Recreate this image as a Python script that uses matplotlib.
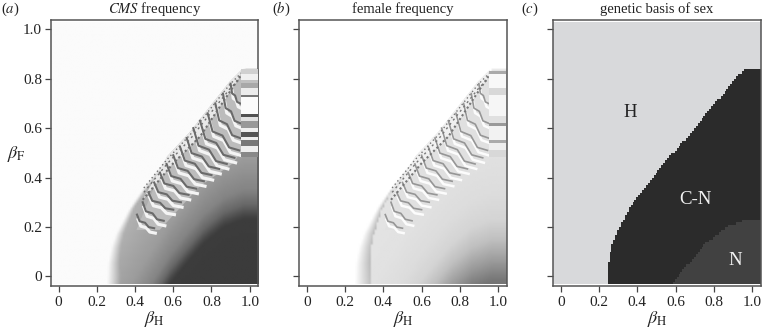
import numpy as np
import matplotlib
matplotlib.use("Agg")
import matplotlib.pyplot as plt

plt.rcParams['font.family'] = ['Liberation Serif', 'DejaVu Serif']
plt.rcParams['mathtext.fontset'] = 'stix'

# ---- values ----
H_x = [0.242, 0.247, 0.265, 0.29, 0.36, 0.446, 0.567, 0.689, 0.792, 0.896, 0.957, 1.05]
H_y = [-0.03, 0.053, 0.12, 0.174, 0.276, 0.37, 0.485, 0.586, 0.688, 0.789, 0.836, 0.836]
N_x = [0.24, 0.40, 0.581, 0.654, 0.758, 0.862, 0.965, 1.05]
N_y = [-0.45, -0.25, -0.03, 0.04, 0.134, 0.2, 0.231, 0.231]

grey_a_d = [-0.5, 0.0, 0.02, 0.06, 0.12, 0.25, 0.5, 1.5]
grey_a_v = [0x3a, 0x3c, 0x48, 0x68, 0x84, 0x9c, 0xb0, 0xb4]
grey_b_d = [-0.25, -0.17, -0.08, 0.0, 0.1, 0.3, 1.5]
grey_b_v = [0x74, 0x9a, 0xc0, 0xd4, 0xdc, 0xe2, 0xe4]

low_x = [0.407, 0.529, 0.738, 0.913, 0.956]
low_y = [0.188, 0.188, 0.364, 0.458, 0.505]
ridge_x = [0.44, 0.60, 0.74, 0.95]
ridge_y = [0.31, 0.458, 0.566, 0.81]

wave_x0 = [.41, .44, .47, .50, .53, .565, .60, .635, .67, .705, .74, .78, .82, .86, .90]
wave_y0 = [.25, .30, .34, .38, .42, .455, .49, .525, .56, .60, .63, .66, .70, .74, .78]
wave_x1 = [.50, .55, .60, .64, .68, .72, .76, .80, .84, .88, .92, .945, .95, .95, .95]
wave_y1 = [.195, .225, .27, .30, .33, .355, .385, .41, .435, .455, .48, .51, .56, .62, .70]
wave_t = [0, .155, .47, .68, 1]
wave_s = [0, .49, .60, .92, 1]

band_a_y = [.839, .82, .796, .782, .762, .735, .726, .658, .647, .627, .60, .586, .566, .55, .526, .505, .485]
band_a_g = ['#d0d0d0', '#f0f0f0', '#c0c0c0', '#a8a8a8', '#ececec', '#777777', '#fbfbfb', '#505050',
            '#e0e0e0', '#999999', '#f0f0f0', '#555555', '#eeeeee', '#777777', '#eeeeee', '#888888']
band_b_y = [.83, .82, .762, .735, .65, .62, .61, .55, .54, .51, .485]
band_b_g = ['#aaaaaa', '#f8f8f8', '#d8d8d8', '#f6f6f6', '#e0e0e0', '#999999', '#f2f2f2', '#aaaaaa',
            '#eeeeee', '#d8d8d8']

ticks = [0, 0.2, 0.4, 0.6, 0.8, 1.0]
tick_labels = ['0', '0.2', '0.4', '0.6', '0.8', '1.0']
titles = [r'$\mathit{CMS}$ frequency', 'female frequency', 'genetic basis of sex']
letters = ['a', 'b', 'c']
letter_px = [1, 272, 521]
left_px = [51, 299.3, 553.3]
region_names = ['H', 'C-N', 'N']
region_x = [0.36, 0.702, 0.91]
region_y = [0.664, 0.313, 0.063]
region_col = ['#222222', '#f2f2f2', '#f2f2f2']
colour_H, colour_CN, colour_N = '#d8d9db', '#2b2b2b', '#414141'

# ---- grid ----
W, H = 763, 333
fig = plt.figure(figsize=(W / 100, H / 100), dpi=100)
gx = np.arange(-0.04, 1.045, 0.01)
gy = np.arange(-0.025, 1.03, 0.01)
X, Y = np.meshgrid(gx, gy)
inside = Y < np.interp(X, H_x, H_y)
dN = Y - np.interp(X, N_x, N_y)
xH = np.interp(Y, H_y[:-1], H_x[:-1])
xH[Y > H_y[-1]] = 9
extent = [gx[0] - .005, gx[-1] + .005, gy[0] - .005, gy[-1] + .005]


def panel_a():
    g = np.interp(dN, grey_a_d, grey_a_v)
    fade = np.interp(Y, [0, 0.3, 1], [0.07, 0.02, 0.01])
    m = np.clip((X - xH - 0.01) / fade, 0, 1)
    return np.where(inside, 0xfb + (g - 0xfb) * m, 0xfb)


def panel_b():
    g = np.interp(dN, grey_b_d, grey_b_v)
    zone = np.interp(Y, [-0.03, 0.15, 0.3, 0.4], [0.09, 0.06, 0.02, 0.0])
    t = X - xH - 0.008
    m = np.clip(t / np.maximum(zone, 0.01), 0, 1)
    ramp = 0xff + (0xbc - 0xff) * m
    return np.where(inside, np.where(t < zone, ramp, g), 0xff)


def chevrons(ax, base, band_base, light, dark, lw, speck, band_y, band_g):
    poly_x = low_x + [0.956] + H_x[-2:5:-1]
    poly_y = low_y + [0.836] + H_y[-2:5:-1]
    ax.fill(poly_x, poly_y, color=base, lw=0, zorder=2)
    ax.fill(ridge_x + H_x[-2:5:-1], ridge_y + H_y[-2:5:-1], color=band_base, lw=0, zorder=2)
    for x0, y0, x1, y1 in zip(wave_x0, wave_y0, wave_x1, wave_y1):
        wx = x0 + (x1 - x0) * np.array(wave_t)
        wy = y0 + (y1 - y0) * np.array(wave_s)
        ax.plot(wx + 0.006, wy - 0.02, color=light, lw=lw * 1.5, solid_joinstyle='round', zorder=3)
        ax.plot(wx, wy, color=dark, lw=lw, solid_joinstyle='round', zorder=4)
    ax.plot(ridge_x, ridge_y, color=speck, lw=1.5, dashes=(1, 1.2), zorder=5)
    ax.plot(H_x[5:-1], np.array(H_y[5:-1]) - 0.012, color=speck, lw=1.0, dashes=(1, 2), zorder=5)
    ax.plot(H_x[5:-1], np.array(H_y[5:-1]) - 0.03, color=speck, lw=1.0, dashes=(1.5, 2.5), zorder=5)
    for i, c in enumerate(band_g):
        ax.fill_between([0.955, 1.042], band_y[i + 1], band_y[i], color=c, lw=0, zorder=6)


for i in range(3):
    ax = fig.add_axes([left_px[i] / W, 1 - 286 / H, 207.3 / W, 266.3 / H])
    if i == 0:
        ax.imshow(panel_a(), cmap='gray', vmin=0, vmax=255, origin='lower', extent=extent,
                  interpolation='bilinear', aspect='auto', zorder=1)
        chevrons(ax, '#bcbcbc', '#e8e8e8', '#f4f4f4', '#6a6a6a', 1.5, '#707070', band_a_y, band_a_g)
    elif i == 1:
        ax.imshow(panel_b(), cmap='gray', vmin=0, vmax=255, origin='lower', extent=extent,
                  interpolation='bilinear', aspect='auto', zorder=1)
        chevrons(ax, '#e0e0e0', '#f0f0f0', '#fcfcfc', '#969696', 1.2, '#767676', band_b_y, band_b_g)
    else:
        rgb = np.empty(X.shape + (3,))
        for j, c in enumerate(matplotlib.colors.to_rgb(colour_H)):
            rgb[..., j] = c
        rgb[inside] = matplotlib.colors.to_rgb(colour_CN)
        rgb[inside & (dN < 0)] = matplotlib.colors.to_rgb(colour_N)
        ax.imshow(rgb, origin='lower', extent=extent, interpolation='nearest', aspect='auto', zorder=1)
        for name, tx, ty, tc in zip(region_names, region_x, region_y, region_col):
            ax.text(tx, ty, name, color=tc, fontsize=13.5, ha='center', va='center', zorder=7)
    ax.set_xlim(-0.04, 1.045)
    ax.set_ylim(-0.039, 1.039)
    ax.set_xticks(ticks, tick_labels)
    ax.set_yticks(ticks, tick_labels if i == 0 else [])
    ax.tick_params(length=4, width=0.9, color='#444444', labelsize=11, labelcolor='#222222')
    ax.tick_params(axis='x', pad=3.5)
    ax.tick_params(axis='y', pad=2.5)
    for s in ax.spines.values():
        s.set_color('#555555')
        s.set_linewidth(1.1)
    ax.set_xlabel(r'$\beta_{\mathrm{H}}$', fontsize=13, color='#222222', labelpad=0)
    if i == 0:
        ax.set_ylabel(r'$\beta_{\mathrm{F}}$', fontsize=13, color='#222222', rotation=0, labelpad=0)
        ax.yaxis.set_label_coords(-0.168, 0.46)
    ax.set_title(titles[i], fontsize=10.5, color='#222222', pad=5)
    fig.text(letter_px[i] / W, 1 - 9 / H, '(' + r'$\mathit{' + letters[i] + '}$' + ')',
             fontsize=10.5, color='#222222', va='center')

fig.savefig('out.png', dpi=100)
